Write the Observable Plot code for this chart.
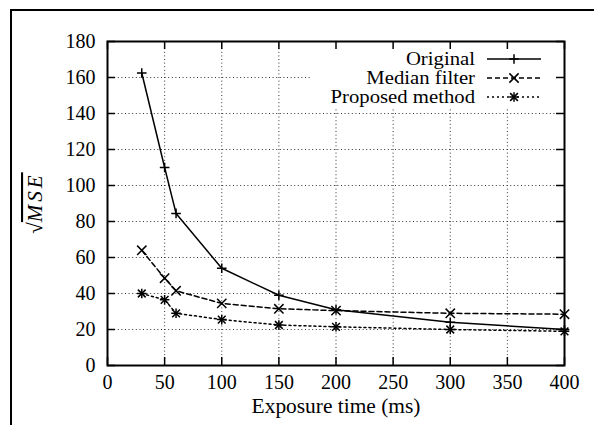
<!DOCTYPE html>
<html>
<head>
<meta charset="utf-8">
<script src="https://cdn.jsdelivr.net/npm/d3@7"></script>
<script src="https://cdn.jsdelivr.net/npm/@observablehq/plot@0.6"></script>
<style>
  html, body { margin: 0; padding: 0; background: #fff; }
  #wrap { position: relative; width: 594px; height: 425px; overflow: hidden; background: #fff; }
  #border { position: absolute; left: 10px; top: 9px; width: 700px; height: 600px;
            border-left: 2px solid #000; border-top: 2px solid #000; z-index: 2; }
  #chart { position: absolute; left: 0; top: 0; z-index: 1; }
  #chart svg, #chart text { font-family: "Liberation Serif", "Times New Roman", serif; }
</style>
</head>
<body>
<div id="wrap"><div id="border"></div><div id="chart"></div></div>
<script>
const exposure = [30, 50, 60, 100, 150, 200, 300, 400];
const original = [162.5, 110, 84.5, 54, 39, 31, 24, 20];
const median   = [64, 48.5, 41.5, 34.5, 31.5, 30.5, 29, 28.5];
const proposed = [40, 36.5, 29, 25.5, 22.5, 21.5, 20, 19];
const seriesNames = ["Original", "Median filter", "Proposed method"];
const xTicks = [0, 50, 100, 150, 200, 250, 300, 350, 400];
const yTicks = [0, 20, 40, 60, 80, 100, 120, 140, 160, 180];
const xGrid = [50, 100, 150, 200, 250, 300, 350];
const yGrid = [20, 40, 60, 80, 100, 120, 140, 160];

const rows = (vals) => exposure.map((x, i) => ({x, y: vals[i]}));
const dOrig = rows(original), dMed = rows(median), dProp = rows(proposed);

const font = "'Liberation Serif', 'Times New Roman', serif";
const W = 594, H = 425, mL = 107, mR = 30, mT = 41, mB = 60;
const innerH = H - mT - mB, innerW = W - mL - mR;
const tickLen = 8;
const gridStyle = {stroke: "#333", strokeWidth: 1, strokeDasharray: "1,2.6"};

const chart = Plot.plot({
  width: W, height: H,
  marginLeft: mL, marginRight: mR, marginTop: mT, marginBottom: mB,
  style: {fontFamily: font, fontSize: "20px", color: "#000", background: "transparent"},
  x: {domain: [0, 400]},
  y: {domain: [0, 180]},
  marks: [
    Plot.ruleX(xGrid, gridStyle),
    Plot.ruleY(yGrid, gridStyle),
    Plot.line(dOrig, {x: "x", y: "y", stroke: "#000", strokeWidth: 1.5}),
    Plot.line(dMed, {x: "x", y: "y", stroke: "#000", strokeWidth: 1.5, strokeDasharray: "5,3"}),
    Plot.line(dProp, {x: "x", y: "y", stroke: "#000", strokeWidth: 1.5, strokeDasharray: "2,3"}),
    Plot.dot(dOrig, {x: "x", y: "y", symbol: "plus", r: 3.2, stroke: "#000", strokeWidth: 1.5}),
    Plot.dot(dMed, {x: "x", y: "y", symbol: "times", r: 4.3, stroke: "#000", strokeWidth: 1.5}),
    Plot.dot(dProp, {x: "x", y: "y", symbol: "plus", r: 3.2, stroke: "#000", strokeWidth: 1.5}),
    Plot.dot(dProp, {x: "x", y: "y", symbol: "times", r: 3.6, stroke: "#000", strokeWidth: 1.5}),
    Plot.ruleX(xTicks, {stroke: "#000", strokeWidth: 1.5, insetTop: innerH - tickLen}),
    Plot.ruleX(xTicks, {stroke: "#000", strokeWidth: 1.5, insetBottom: innerH - tickLen}),
    Plot.ruleY(yTicks, {stroke: "#000", strokeWidth: 1.5, insetRight: innerW - tickLen}),
    Plot.ruleY(yTicks, {stroke: "#000", strokeWidth: 1.5, insetLeft: innerW - tickLen}),
    Plot.frame({stroke: "#000", strokeWidth: 2}),
    Plot.axisX({ticks: xTicks, tickSize: 0, tickPadding: 9, label: "Exposure time (ms)", labelAnchor: "center", labelArrow: "none", labelOffset: 47}),
    Plot.axisY({ticks: yTicks, tickSize: 0, tickPadding: 12, label: null})
  ]
});
document.getElementById("chart").appendChild(chart);

const svg = d3.select(chart);
function stretch(sel, k) {
  sel.each(function () {
    const w = this.getComputedTextLength();
    this.setAttribute("textLength", (w * k).toFixed(1));
    this.setAttribute("lengthAdjust", "spacingAndGlyphs");
  });
}
stretch(svg.selectAll('[aria-label="x-axis label"] text'), 1.07);

// legend background box (covers grid only)
const firstLine = chart.querySelector('[aria-label="line"]');
const bg = document.createElementNS("http://www.w3.org/2000/svg", "rect");
bg.setAttribute("x", 310); bg.setAttribute("y", mT + 1);
bg.setAttribute("width", 253); bg.setAttribute("height", 65);
bg.setAttribute("fill", "#fff");
chart.insertBefore(bg, firstLine);

// legend
const leg = svg.append("g").attr("font-family", font).attr("font-size", 18.5);
const dashes = [null, "5,3", "2,3"];
const rowY = [59, 78, 97];
seriesNames.forEach((name, i) => {
  const y = rowY[i];
  const t = leg.append("text").attr("x", 475).attr("y", y).attr("dy", "0.3em")
    .attr("text-anchor", "end").attr("fill", "#000").text(name);
  stretch(t, 1.12);
  leg.append("line").attr("x1", 487).attr("x2", 541).attr("y1", y).attr("y2", y)
    .attr("stroke", "#000").attr("stroke-width", 1.5)
    .attr("stroke-dasharray", dashes[i]);
  const g = leg.append("g").attr("transform", `translate(514,${y})`)
    .attr("stroke", "#000").attr("stroke-width", 1.5).attr("fill", "none");
  if (i === 0 || i === 2) g.append("path").attr("d", d3.symbol(d3.symbolPlus, Math.PI * 3.2 * 3.2)());
  if (i === 1) g.append("path").attr("d", d3.symbol(d3.symbolTimes, Math.PI * 4.3 * 4.3)());
  if (i === 2) g.append("path").attr("d", d3.symbol(d3.symbolTimes, Math.PI * 3.6 * 3.6)());
});

// y-axis label: sqrt(MSE)
const yl = svg.append("text")
  .attr("transform", `translate(42,${mT + innerH / 2}) rotate(-90)`)
  .attr("text-anchor", "middle").attr("font-family", font).attr("font-size", 21).attr("fill", "#000");
yl.append("tspan").text("√");
yl.append("tspan").attr("font-style", "italic").attr("letter-spacing", "3")
  .style("text-decoration", "overline").text("MSE");
</script>
</body>
</html>
